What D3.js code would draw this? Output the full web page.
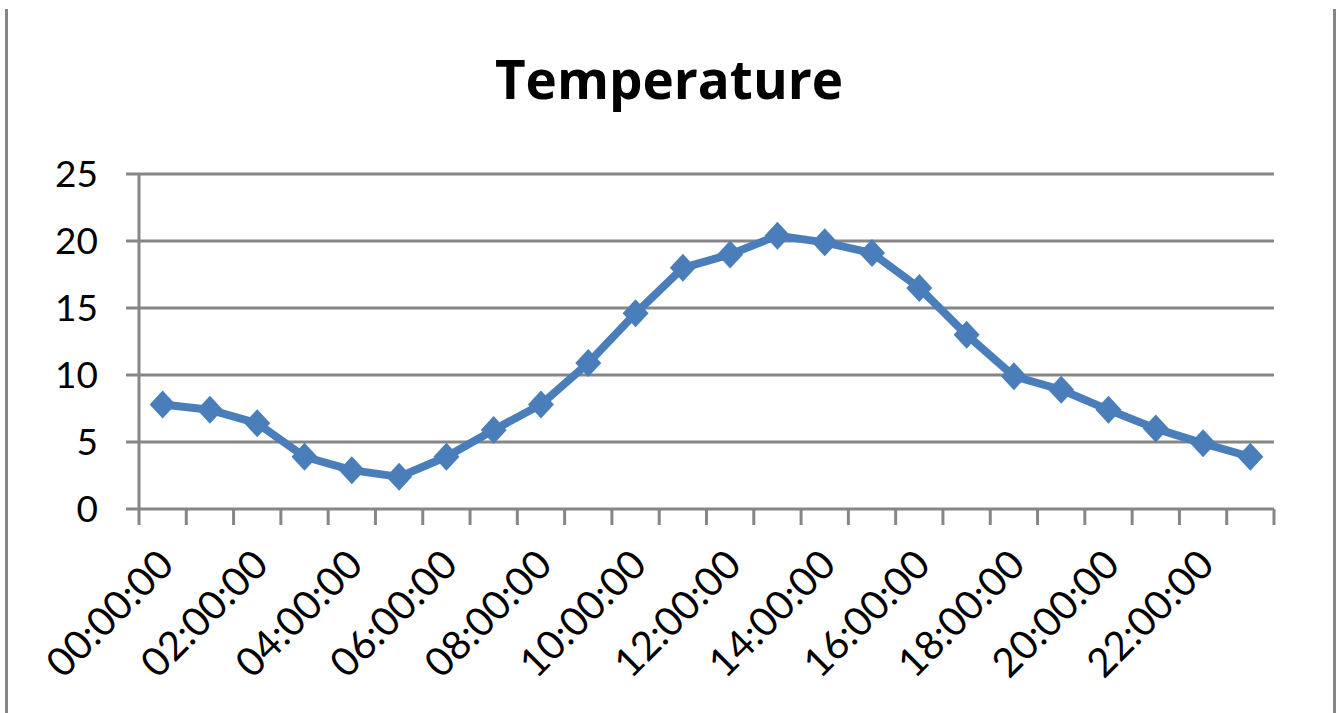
<!DOCTYPE html>
<html>
<head>
<meta charset="utf-8">
<script src="https://cdn.jsdelivr.net/npm/d3@7/dist/d3.min.js"></script>
<style>
  html, body { margin: 0; padding: 0; background: #fff; }
  svg { display: block; font-family: Lato, "Open Sans", sans-serif; }
  .title { font-family: "Open Sans", Lato, sans-serif; font-size: 53px; font-weight: bold; fill: #000; }
  .tick-label { font-size: 37px; fill: #000; }
  .x-label { font-size: 40px; fill: #000; }
  .grid-line { stroke: #868686; stroke-width: 3; }
</style>
</head>
<body>
<div id="chart"></div>
<script>
// Hourly categories and readings
const hours = d3.range(24).map(h => String(h).padStart(2, "0") + ":00:00");
const temperature = [7.8, 7.4, 6.4, 3.9, 2.9, 2.4, 3.9, 5.9, 7.8, 10.9, 14.6, 18.0,
                     19.0, 20.4, 19.9, 19.1, 16.5, 13.0, 9.9, 8.9, 7.4, 6.0, 4.9, 3.9];
const yTicks = [0, 5, 10, 15, 20, 25];
const labelEvery = 2;

const width = 1339;
const height = 713;
const plot = { left: 139, right: 1274, top: 174, bottom: 509 };

const svg = d3.select("#chart")
    .append("svg")
    .attr("width", width)
    .attr("height", height);

// chart frame (cropped: only the sides show)
svg.append("line").attr("x1", 6.5).attr("x2", 6.5).attr("y1", 9).attr("y2", height)
    .attr("stroke", "#868686").attr("stroke-width", 3);
svg.append("line").attr("x1", 1334.5).attr("x2", 1334.5).attr("y1", 9).attr("y2", height)
    .attr("stroke", "#868686").attr("stroke-width", 3);

// Title
svg.append("text")
    .attr("class", "title")
    .attr("x", 669)
    .attr("y", 99)
    .attr("text-anchor", "middle")
    .text("Temperature");

const x = d3.scaleBand()
    .domain(hours)
    .range([plot.left, plot.right])
    .padding(0);

const y = d3.scaleLinear()
    .domain([0, 25])
    .range([plot.bottom, plot.top]);

// Horizontal grid lines with a short tick on the left
yTicks.forEach(t => {
    svg.append("line")
        .attr("class", "grid-line")
        .attr("x1", plot.left - 13)
        .attr("x2", plot.right)
        .attr("y1", y(t))
        .attr("y2", y(t));
    svg.append("text")
        .attr("class", "tick-label")
        .attr("x", 98)
        .attr("y", y(t))
        .attr("dy", "0.36em")
        .attr("text-anchor", "end")
        .text(t);
});

// Y axis line
svg.append("line")
    .attr("class", "grid-line")
    .attr("x1", plot.left).attr("x2", plot.left)
    .attr("y1", plot.top).attr("y2", plot.bottom + 1.5);

// X tick marks at category boundaries
const boundaries = hours.map(h => x(h)).concat([plot.right]);
boundaries.forEach(bx => {
    svg.append("line")
        .attr("class", "grid-line")
        .attr("x1", bx).attr("x2", bx)
        .attr("y1", plot.bottom).attr("y2", plot.bottom + 16);
});

// X labels, every other hour, rotated
hours.forEach((h, i) => {
    if (i % labelEvery !== 0) return;
    const cx = x(h) + x.bandwidth() / 2 + 3;
    const cy = 557;
    svg.append("text")
        .attr("class", "x-label")
        .attr("x", cx)
        .attr("y", cy)
        .attr("dy", "0.36em")
        .attr("text-anchor", "end")
        .attr("transform", `rotate(-45, ${cx}, ${cy})`)
        .text(h);
});

// Line series
const color = "#4a7ebb";
const line = d3.line()
    .x((d, i) => x(hours[i]) + x.bandwidth() / 2)
    .y(d => y(d));

svg.append("path")
    .datum(temperature)
    .attr("fill", "none")
    .attr("stroke", color)
    .attr("stroke-width", 8)
    .attr("stroke-linejoin", "round")
    .attr("d", line);

// Diamond markers
const diamond = "M0,-14L13,0L0,14L-13,0Z";
svg.selectAll(".marker")
    .data(temperature)
    .enter()
    .append("path")
    .attr("class", "marker")
    .attr("d", diamond)
    .attr("fill", color)
    .attr("transform", (d, i) => `translate(${x(hours[i]) + x.bandwidth() / 2}, ${y(d)})`);
</script>
</body>
</html>
